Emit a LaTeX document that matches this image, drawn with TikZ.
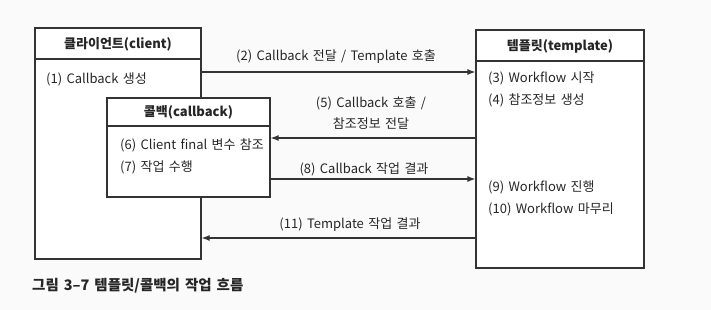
\documentclass[tikz,border=0pt]{standalone}
\usepackage{fontspec}
\setmainfont[WordSpace=1.5]{Noto Sans CJK KR}
\usetikzlibrary{arrows.meta}
\tikzset{
  box/.style={draw=black!80, line width=1.2pt, fill=white, inner sep=0pt},
  hline/.style={draw=black!80, line width=1.2pt},
  arr/.style={draw=black!80, line width=1.2pt, -{Latex[length=8pt,width=6pt]}},
  head/.style={font=\fontsize{13}{15}\selectfont\bfseries, text=black!85},
  txt/.style={font=\fontsize{13}{15}\selectfont, text=black!85, anchor=west, inner sep=0pt},
  lbl/.style={font=\fontsize{13}{15}\selectfont, text=black!85, inner sep=0pt},
}
\begin{document}
\begin{tikzpicture}[x=1pt,y=-1pt]
\useasboundingbox[fill=black!2] (0,0) rectangle (711,310);
% boxes
\node[box, minimum width=166pt, minimum height=231pt] (client) at (118,143.5) {};
\node[box, minimum width=168pt, minimum height=238pt] (template) at (560,149) {};
\node[box, minimum width=163pt, minimum height=99pt] (callback) at (188.5,147.5) {};
% header lines
\coordinate (hc) at (0,59);
\coordinate (ht) at (0,61);
\coordinate (hb) at (0,126);
\draw[hline] (client.west |- hc) -- (client.east |- hc);
\draw[hline] (template.west |- ht) -- (template.east |- ht);
\draw[hline] (callback.west |- hb) -- (callback.east |- hb);
% headers
\node[head] (hclient) at (118,44) {클라이언트(client)};
\node[head] (htemplate) at (560,46) {템플릿(template)};
\node[head] (hcallback) at (188.5,112) {콜백(callback)};
% texts
\node[txt] (t1) at (46,79) {(1) Callback 생성};
\node[txt] (t6) at (120,145) {(6) Client final 변수 참조};
\node[txt] (t7) at (120,167) {(7) 작업 수행};
\node[txt] (t3) at (488,78) {(3) Workflow 시작};
\node[txt] (t4) at (488,100) {(4) 참조정보 생성};
\node[txt] (t9) at (488,187) {(9) Workflow 진행};
\node[txt] (t10) at (488,209) {(10) Workflow 마무리};
% arrows
\coordinate (y2) at (0,72);
\coordinate (y5) at (0,138);
\coordinate (y8) at (0,179);
\coordinate (y11) at (0,238);
\draw[arr] (client.east |- y2) -- (template.west |- y2);
\draw[arr] (template.west |- y5) -- (callback.east |- y5);
\draw[arr] (callback.east |- y8) -- (template.west |- y8);
\draw[arr] (template.west |- y11) -- (client.east |- y11);
% labels
\node[lbl] (l2) at (336,57) {(2) Callback 전달 / Template 호출};
\node[lbl] (l5a) at (371,103) {(5) Callback 호출 /};
\node[lbl] (l5b) at (371,124) {참조정보 전달};
\node[lbl] (l8) at (364,169) {(8) Callback 작업 결과};
\node[lbl] (l11) at (350,225) {(11) Template 작업 결과};
% caption
\node[font=\fontsize{14.5}{17}\selectfont\bfseries, text=black!85, anchor=west, inner sep=0pt] (cap) at (32,286) {그림 3–7 템플릿/콜백의 작업 흐름};
\end{tikzpicture}
\end{document}
